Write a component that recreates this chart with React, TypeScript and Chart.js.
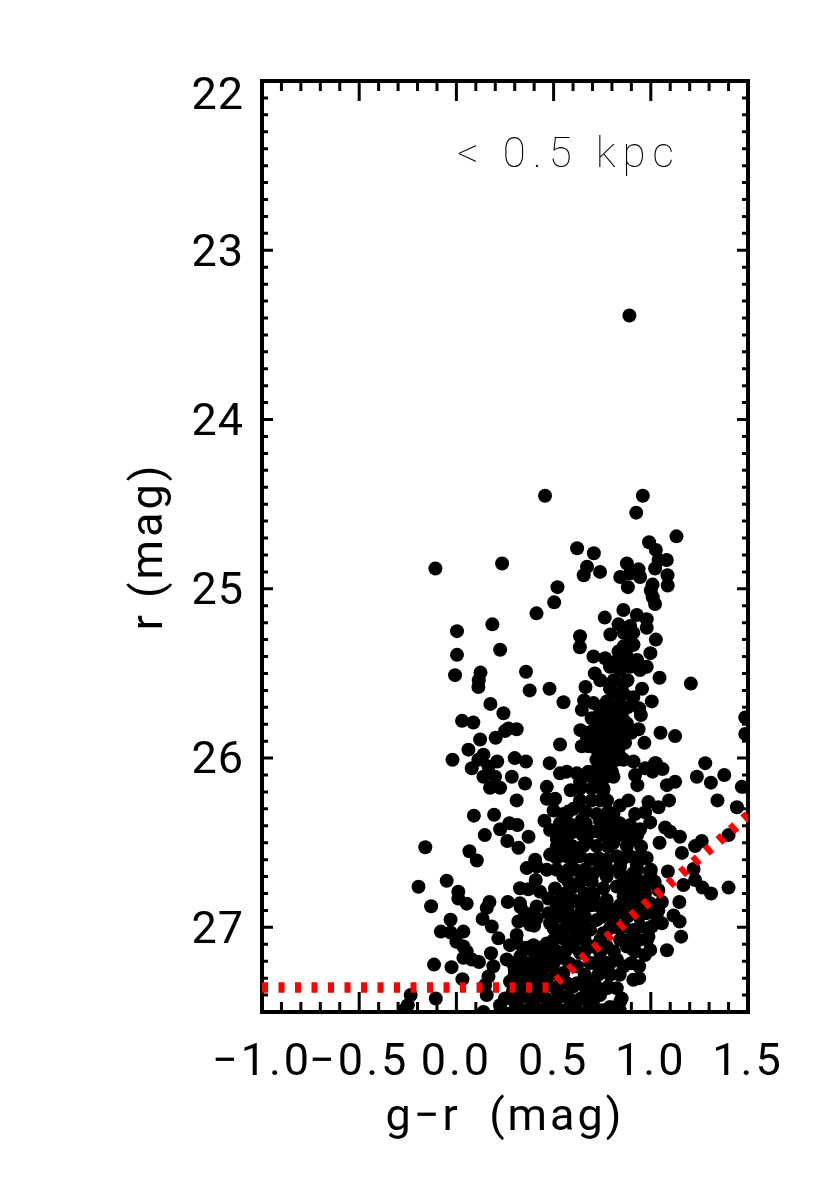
import React, { useEffect, useRef } from "react";
import { Chart, registerables } from "chart.js";

Chart.register(...registerables);

const xTicks = [-1.0, -0.5, 0.0, 0.5, 1.0, 1.5];
const yTicks = [22, 23, 24, 25, 26, 27];
const limitX = [-1.0, 0.48, 1.52];
const limitR = [27.355, 27.355, 26.32];
const annotationText = "< 0.5 kpc";

const stars: [number, number][] = [
[.89,23.385],[.456,24.45],[.959,24.45],[.925,24.55],[1.132,24.69],[.621,24.76],[.707,24.79],[.991,24.725],[1.026,24.77],[1.082,24.83],[1.04,24.83],[1.022,24.88],[-.108,24.88],[.235,24.85],[.672,24.87],[.655,24.92],[.739,24.9],[.877,24.85],[.843,24.93],[.937,24.885],[.893,24.91],[.945,24.93],[.882,24.99],[1.086,24.92],[1.087,24.98],[1.009,24.975],[1.0,25.01],[1.022,25.09],[1.01,25.05],[.52,24.99],[.503,25.08],[.412,25.145],[.185,25.21],[.003,25.25],[.003,25.39],[.225,25.36],[-.007,25.51],[.124,25.495],[.115,25.54],[.113,25.58],[.358,25.49],[.377,25.6],[.479,25.59],[.551,25.67],[.175,25.68],[.242,25.735],[.029,25.78],[.087,25.79],[.122,25.89],[.202,25.88],[.31,25.83],[.268,25.825],[.25,25.84],[.533,25.92],[.062,25.95],[.139,25.98],[-.02,26.01],[.21,26.02],[.3,26.0],[.358,26.02],[.48,26.03],
[.859,25.125],[.928,25.155],[.979,25.18],[.979,25.23],[.763,25.17],[.834,25.21],[.792,25.27],[.894,25.22],[.894,25.28],[.911,25.33],[1.026,25.3],[.636,25.28],[.635,25.345],[.834,25.37],[.705,25.4],[.998,25.38],[.765,25.41],[.79,25.46],[.877,25.4],[.979,25.46],[.945,25.48],[.894,25.46],[.842,25.48],[.712,25.5],[.74,25.54],[1.045,25.525],[1.206,25.56],[.664,25.58],[.79,25.59],[.859,25.56],[.955,25.59],[.91,25.64],[1.005,25.665],[.657,25.66],[.645,25.715],[.842,25.635],[.774,25.665],[.705,25.675],[.859,25.715],[.739,25.715],[.696,25.765],[.94,25.705],[.949,25.745],[.816,25.765],[.79,25.805],[.877,25.795],[.937,25.83],[1.05,25.85],[1.125,25.87],[.967,25.91],[.868,25.91],[.638,25.835],[.705,25.835],[.672,25.88],[.645,25.93],[.739,25.87],[.774,25.91],[.825,25.87],[.808,25.93],[.722,25.95],[.79,25.98],[.756,26.0],[.842,25.99],[.911,26.02],[1.022,26.03],[1.28,26.03],[1.486,25.76],[1.486,25.857],[.773,25.82],[.808,25.85],[.74,25.93],[.766,25.85],[.825,25.81],[.783,25.75],[.842,25.73],
[.079,26.06],[.113,26.01],[.165,26.05],[.139,26.11],[.199,26.11],[.285,26.11],[.353,26.15],[.173,26.175],[.225,26.175],[.31,26.25],[.533,26.09],[.568,26.08],[.62,26.09],[.679,26.08],[.636,26.14],[.465,26.17],[.588,26.19],[.739,26.13],[.756,26.19],[.808,26.11],[.971,26.06],[1.026,26.03],[1.009,26.08],[1.06,26.065],[.919,26.1],[.931,26.16],[1.083,26.16],[1.125,26.14],[1.237,26.11],[1.309,26.145],[1.378,26.1],[1.468,26.17],[1.343,26.25],[1.443,26.29],[1.094,26.25],[.988,26.26],[1.04,26.29],[.885,26.25],[.842,26.28],[.808,26.33],[.971,26.32],[.919,26.33],[.465,26.24],[.508,26.24],[.5,26.31],[.55,26.33],[.636,26.25],[.602,26.3],[.739,26.25],[.722,26.33],[.645,26.365],[.453,26.37],[.482,26.425],[.533,26.385],[.602,26.435],[.696,26.435],[.739,26.375],[.808,26.435],[.894,26.395],[.945,26.42],[.997,26.38],[1.074,26.41],[1.1,26.435],[1.15,26.465],[1.045,26.5],[.09,26.34],[.194,26.335],[.273,26.385],[.225,26.42],[.314,26.395],[.146,26.455],[.371,26.465],[.262,26.49],[.319,26.53],[-.16,26.527],[.067,26.55],[.105,26.605],[1.16,26.56],[1.228,26.52],[1.262,26.49],[1.4,26.455],[1.22,26.655],[1.088,26.67],[1.168,26.75],[1.228,26.72],[1.266,26.765],[1.31,26.8],[1.4,26.765],[1.147,26.85],[1.117,26.93],[1.148,26.965],[1.156,27.055],[1.083,27.135],[-.05,26.725],[-.195,26.76],[.01,26.79],[.01,26.83],[.053,26.86],[-.13,26.875],[.17,26.85],[.156,26.885],[.264,26.85],[.135,26.95],[.182,26.995],[-.03,26.955],[-.08,27.025],[-.03,27.03],[.036,27.025],[.216,27.065],[0,27.085],[.036,27.113],[.053,27.143],[.036,27.18],[.079,27.19],[.116,27.205],[.178,27.153],[.19,27.23],[-.115,27.22],[-.025,27.235],[.031,27.306],[.165,27.29],[.148,27.34],[.156,27.4],[-.235,27.4],[-.25,27.46],[-.27,27.49],[-.106,27.42],[.276,27.32],[.225,27.46],[.139,27.5],[.259,27.19],[.31,27.045],[.276,27.105],[.345,27.133],[.396,27.105],[.465,27.095],[.508,27.133],[.413,27.18],[.328,27.22],[.439,27.18],[.362,27.29],[.43,27.25],[.482,27.23],[.396,27.23],[.345,27.41],[.413,27.37],[.31,27.46],[.465,27.33],[.517,27.37],[.396,27.45],[.482,27.45],[.568,27.41],[.62,27.33],[.67,27.31],[.688,27.37],[.602,27.47],[.67,27.43],[.774,27.36],[.825,27.36],[.739,27.4],[.79,27.47],[.842,27.44],[.568,27.33],[.705,27.47],[.53,27.49],[.91,27.31],[.94,27.3],[.94,27.23],[.86,27.23],[.825,27.19],[.739,27.23],[.774,27.21],[.688,27.21],[.62,27.23],[.636,27.15],[.739,27.15],[.602,27.113],[.705,27.113],[.774,27.113],[.842,27.073],[.877,27.113],[.91,27.133],[.97,27.163],[.997,27.133],[.988,27.055],[1.005,26.995],[1.057,26.976],[.945,26.995],[.91,27.015],[.86,26.995],[.808,26.976],[.756,27.035],[.688,27.015],[.62,27.035],[.55,27.055],[.517,27.015],[.482,26.976],[.517,26.936],[.473,26.916],[.585,26.956],[.653,26.976],[.645,26.897],[.722,26.956],[.739,26.877],[.79,26.897],[.859,26.916],[.91,26.897],[.979,26.916],[1.039,26.897],[1.057,26.85],[.997,26.858],[.928,26.838],[.86,26.818],[.773,26.838],[.756,26.769],[.825,26.759],[.91,26.74],[.988,26.74],[1.039,26.779],[.997,26.68],[.91,26.68],[.842,26.68],[.773,26.7],[.705,26.68],[.61,26.66],[.55,26.7],[.653,26.72],[.602,26.76],[.507,26.77],[.473,26.83],[.533,26.838],[.602,26.838],[.645,26.867],[.705,26.818],[.568,26.897],[.413,26.877],[.327,26.858],[.353,26.916],[.319,26.965],[.379,26.985],[.413,26.946],[.327,26.769],[.37,26.775],[.43,26.789],[.408,26.72],[.362,26.65],[.413,26.64],[.405,26.6],[.465,26.66],[.482,26.57],[.533,26.54],[.568,26.58],[.636,26.58],[.688,26.6],[.773,26.6],[.825,26.58],[.894,26.58],[.979,26.59],[.928,26.63],[.842,26.64],[.739,26.65],[.653,26.52],[.722,26.52],[.808,26.5],[.877,26.52],[.91,26.48],[.568,26.48],[.517,26.48],[.739,26.44],[.67,26.485],[.773,26.09],[.722,26.07],[.773,26.01],[.739,26.03],[.825,26.01],[.79,26.05],
[.696,26.11],[.77,26.11],[.636,26.18],[.696,26.18],[.756,26.18],[.696,26.25],[.775,26.25],[.576,26.316],[.665,26.316],[.78,26.316],[.576,26.385],[.636,26.385],[.665,26.385],[.78,26.385],[.84,26.385],[.516,26.454],[.55,26.454],[.65,26.454],[.756,26.454],[.84,26.454],[.877,26.454],[.93,26.454],[.516,26.523],[.6,26.523],[.78,26.523],[.95,26.523],[.516,26.59],[.6,26.59],[.73,26.59],[.86,26.59],[.93,26.59],[.97,26.59],[.516,26.66],[.576,26.66],[.66,26.66],[.78,26.66],[.93,26.66],[1.0,26.66],[.576,26.73],[.636,26.73],[.696,26.73],[.86,26.73],[.95,26.73],[1.02,26.73],[.56,26.8],[.66,26.8],[.7,26.8],[.88,26.8],[.93,26.8],[.97,26.8],[.516,26.87],[.576,26.87],[.696,26.87],[.84,26.87],[.88,26.87],[.95,26.87],[.55,26.936],[.61,26.936],[.66,26.936],[.75,26.936],[.81,26.936],[.88,26.936],[.94,26.936],[1.03,26.936],[.5,27.005],[.56,27.005],[.61,27.005],[.66,27.005],[.79,27.005],[.84,27.005],[.99,27.005],[.5,27.074],[.56,27.074],[.61,27.074],[.66,27.074],[.74,27.074],[.88,27.074],[.94,27.074],[.98,27.074],[.44,27.143],[.5,27.143],[.56,27.143],[.66,27.143],[.81,27.143],[.92,27.143],[.29,27.212],[.36,27.212],[.44,27.212],[.5,27.212],[.58,27.212],[.71,27.212],[.79,27.212],[.9,27.212],[.3,27.28],[.41,27.28],[.47,27.28],[.66,27.28],[.73,27.28],[.79,27.28],[.84,27.28],[.3,27.35],[.36,27.35],[.46,27.35],[.52,27.35],[.6,27.35],[.66,27.35],[.72,27.35],[.78,27.35],[.28,27.42],[.4,27.42],[.46,27.42],[.52,27.42],[.58,27.42],[.64,27.42],[.71,27.42],[.85,27.42],[.36,27.49],[.44,27.49],[.5,27.49],[.56,27.49],[.62,27.49],[.68,27.49],[.75,27.49],[.84,27.49],
[.86,25.26],[.91,25.26],[.86,25.34],[.89,25.34],[.83,25.42],[.87,25.42],[.93,25.42],[.81,25.54],[.88,25.54],[.82,25.62],[.86,25.62],[.8,25.7],[.82,25.7],[.88,25.7],[.72,25.775],[.74,25.775],[.78,25.775],[.86,25.775],[.68,25.85],[.72,25.85],[.76,25.85],[.8,25.85],[.84,25.85],[.9,25.85],[.68,25.93],[.7,25.93],[.76,25.93],[.84,25.93],[.72,26.01],[.8,26.01],[.86,26.01],[.77,26.06],[.8,26.08],
[.33,27.17],[.4,27.15],[.47,27.17],[.54,27.18],[.3,27.25],[.36,27.26],[.5,27.27],[.55,27.27],[.35,27.33],[.42,27.33],[.29,27.38],[.36,27.39],[.44,27.39],[.25,27.42],[.3,27.49],[.24,27.5],[.33,26.88],[.36,26.95],[.39,26.92],[.4,26.99],[.31,27.09],[.36,27.12],[.43,27.12],
];

const frame = {
  id: "idlFrame",
  beforeDraw(chart: any) {
    chart.ctx.letterSpacing = "3px";
  },
  beforeDatasetsDraw(chart: any) {
    const { ctx, chartArea: a, scales } = chart;
    const sx = scales.x;
    const sy = scales.y;
    ctx.save();
    ctx.strokeStyle = "#000";
    ctx.lineWidth = 3;
    ctx.lineCap = "butt";
    for (let i = -10; i <= 15; i++) {
      const px = sx.getPixelForValue(i / 10);
      const len = i % 5 === 0 ? 20 : 10;
      ctx.beginPath();
      ctx.moveTo(px, a.top);
      ctx.lineTo(px, a.top + len);
      ctx.moveTo(px, a.bottom);
      ctx.lineTo(px, a.bottom - len);
      ctx.stroke();
    }
    for (let i = 220; i <= 275; i++) {
      const py = sy.getPixelForValue(i / 10);
      const len = i % 10 === 0 ? 11 : 6;
      ctx.beginPath();
      ctx.moveTo(a.left, py);
      ctx.lineTo(a.left + len, py);
      ctx.moveTo(a.right, py);
      ctx.lineTo(a.right - len, py);
      ctx.stroke();
    }
    ctx.lineWidth = 4;
    ctx.strokeRect(a.left, a.top, a.right - a.left, a.bottom - a.top);
    // y tick labels are placed from the scale: the first one sits below its tick
    ctx.fillStyle = "#000";
    ctx.font = "400 45px Roboto";
    ctx.letterSpacing = "1px";
    ctx.textAlign = "right";
    ctx.textBaseline = "middle";
    yTicks.forEach((v, i) => {
      ctx.fillText(String(v), a.left - 18, sy.getPixelForValue(v) + (i === 0 ? 17 : 4));
    });
    ctx.restore();
  },
  afterDraw(chart: any) {
    const { ctx } = chart;
    ctx.save();
    ctx.fillStyle = "#000";
    ctx.font = "100 42px Roboto";
    ctx.letterSpacing = "7px";
    ctx.textAlign = "left";
    ctx.textBaseline = "alphabetic";
    ctx.fillText(annotationText, 457, 167);
    ctx.restore();
  },
};

const labelFont = { family: "Roboto", size: 45, weight: 400 as any };

export default function App() {
  const ref = useRef<HTMLCanvasElement>(null);
  useEffect(() => {
    const chart = new Chart(ref.current!, {
      type: "scatter",
      data: {
        datasets: [
          {
            label: "limit",
            type: "line",
            data: limitX.map((x, i) => ({ x, y: limitR[i] })),
            borderColor: "#ff0000",
            borderWidth: 10.5,
            borderDash: [6, 10.5],
            pointRadius: 0,
            fill: false,
            tension: 0,
            order: 0,
          },
          {
            label: "stars",
            data: stars.map(([x, y]) => ({ x, y })),
            backgroundColor: "#000",
            borderColor: "#000",
            borderWidth: 0,
            pointRadius: 7,
            order: 1,
          },
        ],
      },
      options: {
        responsive: false,
        animation: false,
        layout: { padding: { top: 81, right: 77, left: 0, bottom: 0 } },
        plugins: { legend: { display: false }, tooltip: { enabled: false } },
        scales: {
          x: {
            type: "linear",
            min: -1,
            max: 1.5,
            afterBuildTicks: (s: any) => {
              s.ticks = xTicks.map((value) => ({ value }));
            },
            afterFit: (s: any) => {
              s.height = 167;
            },
            grid: { display: false, drawTicks: false },
            border: { display: false },
            ticks: {
              autoSkip: false,
              maxRotation: 0,
              minRotation: 0,
              padding: 25,
              color: "#000",
              font: labelFont,
              callback: (v: any) => (Number(v) < 0 ? "\u2212" : "") + Math.abs(Number(v)).toFixed(1),
            },
            title: {
              display: true,
              text: "g\u2212r  (mag)",
              color: "#000",
              font: labelFont,
              padding: { top: 0, bottom: 33 },
            },
          },
          y: {
            type: "linear",
            reverse: true,
            min: 22,
            max: 27.5,
            afterBuildTicks: (s: any) => {
              s.ticks = yTicks.map((value) => ({ value }));
            },
            afterFit: (s: any) => {
              s.width = 262;
            },
            grid: { display: false, drawTicks: false },
            border: { display: false },
            ticks: { display: false },
            title: {
              display: true,
              text: "r (mag)",
              color: "#000",
              font: labelFont,
              padding: { top: 124, bottom: 0 },
            },
          },
        },
      },
      plugins: [frame],
    } as any);
    return () => chart.destroy();
  }, []);
  return (
    <canvas
      ref={ref}
      width={825}
      height={1179}
      style={{ position: "absolute", left: 0, top: 0, width: 825, height: 1179, display: "block" }}
    />
  );
}
